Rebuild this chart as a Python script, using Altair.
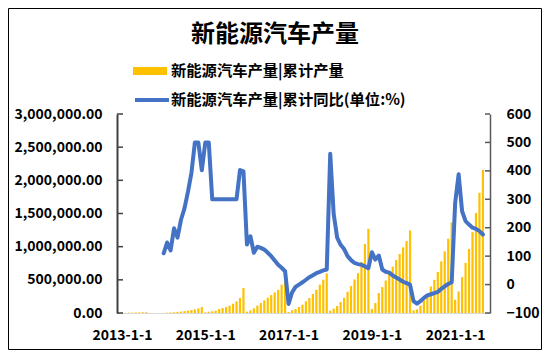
import altair as alt
import pandas as pd

# ---------------- data ----------------
years = [2013, 2014, 2015, 2016, 2017, 2018, 2019, 2020, 2021]

# cumulative production (vehicles), Jan..Dec of each year
bar_2013 = [2000, 3000, 5000, 6000, 8000, 9000, 11000, 12000, None, None, None, None]
bar_2014 = [2000, 5000, 8000, 12000, 17000, 22000, 28000, 35000, 45000, 55000, 68000, 90000]
bar_2015 = [10000, 20000, 25000, 35000, 60000, 75000, 90000, 110000, 140000, 176000, 226000, 376000]
bar_2016 = [20000, 40000, 70000, 110000, 150000, 190000, 230000, 270000, 310000, 350000, 427000, 470000]
bar_2017 = [15000, 40000, 60000, 90000, 125000, 176000, 226000, 286000, 351000, 427000, 502000, 595000]
bar_2018 = [35000, 65000, 105000, 165000, 230000, 320000, 405000, 505000, 600000, 770000, 1040000, 1270000]
bar_2019 = [60000, 150000, 300000, 390000, 490000, 620000, 700000, 800000, 890000, 990000, 1085000, 1244000]
bar_2020 = [40000, 55000, 110000, 190000, 280000, 400000, 500000, 620000, 780000, 930000, 1120000, 1366000]
bar_2021 = [200000, 325000, 540000, 755000, 965000, 1220000, 1508000, 1812000, 2158000]

# cumulative YoY (%)
yoy_2013 = [None] * 12
yoy_2014 = [110, 148, 120, 198, 165, 228, 268, 326, 392, 500, 500, 402]
yoy_2015 = [500, 500, 300, 300, 300, 300, 300, 300, 300, 300, 403, 398]
yoy_2016 = [141, 170, 112, 133, 129, 123, 112, 100, 85, 70, 59, 47]
yoy_2017 = [-68, -28, -8, 0, 8, 17, 26, 33, 40, 45, 50, 53]
yoy_2018 = [460, 248, 165, 140, 125, 100, 86, 76, 72, 70, 64, 58]
yoy_2019 = [114, 88, 102, 53, 45, 42, 32, 25, 18, 10, 5, 0]
yoy_2020 = [-58, -67, -58, -47, -38, -34, -30, -26, -15, -6, 2, 8]
yoy_2021 = [287, 388, 258, 223, 211, 200, 196, 188, 176]

bars_by_year = [bar_2013, bar_2014, bar_2015, bar_2016, bar_2017, bar_2018, bar_2019, bar_2020, bar_2021]
yoy_by_year = [yoy_2013, yoy_2014, yoy_2015, yoy_2016, yoy_2017, yoy_2018, yoy_2019, yoy_2020, yoy_2021]

x_labels = ["2013-1-1", "2015-1-1", "2017-1-1", "2019-1-1", "2021-1-1"]
left_ticks = [0, 500000, 1000000, 1500000, 2000000, 2500000, 3000000]
right_ticks = [-100, 0, 100, 200, 300, 400, 500, 600]

name_bar = "新能源汽车产量|累计产量"
name_line = "新能源汽车产量|累计同比(单位:%)"
title_text = "新能源汽车产量"

# ---------------- tables ----------------
bar_rows, line_rows = [], []
for yi, yr in enumerate(years):
    for m, v in enumerate(bars_by_year[yi]):
        if v is not None:
            bar_rows.append({"i": yi * 12 + m, "month": f"{yr}-{m+1:02d}", "cum": v, "s": name_bar})
    for m, v in enumerate(yoy_by_year[yi]):
        if v is not None:
            line_rows.append({"i": yi * 12 + m, "month": f"{yr}-{m+1:02d}", "yoy": v, "s": name_line})
bar_df = pd.DataFrame(bar_rows)
line_df = pd.DataFrame(line_rows)

FONT = "Noto Sans CJK SC"
W, H = 373, 199
label_expr = "[" + ",".join(f"'{s}'" for s in x_labels) + "][datum.value/24]"

x_enc = alt.X(
    "i:Q",
    scale=alt.Scale(domain=[0, 104.6], nice=False, zero=False),
    axis=alt.Axis(
        values=[0, 24, 48, 72, 96], labelExpr=label_expr, title=None, grid=False,
        ticks=False, tickSize=0, domainColor="#D9D9D9", domainWidth=1,
        labelFont=FONT, labelFontSize=14, labelFontWeight="bold", labelColor="#000000",
        labelPadding=15, labelFlush=False,
    ),
)

left_axis = alt.Axis(
    orient="left", values=left_ticks, format=",.2f", title=None, grid=False,
    ticks=False, tickSize=0, domainColor="#404040", domainWidth=2,
    labelFont=FONT, labelFontSize=14, labelFontWeight="bold", labelColor="#000000",
    labelPadding=15,
)
right_axis = alt.Axis(
    orient="right", values=right_ticks, format="d", title=None, grid=False,
    ticks=False, tickSize=0, domainColor="#595959", domainWidth=1.5,
    labelFont=FONT, labelFontSize=14, labelFontWeight="bold", labelColor="#000000",
    labelPadding=16,
)
left_scale = alt.Scale(domain=[0, 3000000], nice=False)
right_scale = alt.Scale(domain=[-100, 600], nice=False)

bars = alt.Chart(bar_df).mark_bar(size=2.2).encode(
    x=x_enc,
    y=alt.Y("cum:Q", scale=left_scale, axis=left_axis),
    color=alt.Color(
        "s:N", scale=alt.Scale(range=["#FFC000"]),
        legend=alt.Legend(
            orient="none", legendX=16, legendY=-60, title=None, padding=0,
            symbolType="M-1,-0.235H1V0.235H-1Z", symbolSize=1156, symbolStrokeWidth=0,
            labelFont=FONT, labelFontSize=15.3, labelFontWeight="bold", labelColor="#000000",
            labelOffset=4, labelLimit=400,
        ),
    ),
)

lticks = alt.Chart(pd.DataFrame({"cum": left_ticks})).mark_rule(color="#404040", strokeWidth=1.5).encode(
    y=alt.Y("cum:Q", scale=left_scale, axis=left_axis), x=alt.value(0), x2=alt.value(6)
)

line = alt.Chart(line_df).mark_line(strokeWidth=4, strokeJoin="round", strokeCap="round").encode(
    x=alt.X("i:Q"),
    y=alt.Y("yoy:Q", scale=right_scale, axis=right_axis),
    stroke=alt.Stroke(
        "s:N", scale=alt.Scale(range=["#4472C4"]),
        legend=alt.Legend(
            orient="none", legendX=16, legendY=-33, title=None, padding=0,
            symbolType="stroke", symbolSize=1156, symbolStrokeWidth=4,
            labelFont=FONT, labelFontSize=15.3, labelFontWeight="bold", labelColor="#000000",
            labelOffset=0, labelLimit=400,
        ),
    ),
)

rticks = alt.Chart(pd.DataFrame({"yoy": right_ticks})).mark_rule(color="#595959", strokeWidth=1.5).encode(
    y=alt.Y("yoy:Q", scale=right_scale, axis=right_axis), x=alt.value(W - 5), x2=alt.value(W)
)

border = alt.Chart(pd.DataFrame({"a": [0]})).mark_rect(
    fillOpacity=0, stroke="#000000", strokeWidth=1
).encode(
    x=alt.value(-108.5), x2=alt.value(424.5), y=alt.value(-105.5), y2=alt.value(235.5)
)

title = alt.Chart(pd.DataFrame({"t": [title_text]})).mark_text(
    font=FONT, fontSize=24, fontWeight="bold", color="#000000", align="center", baseline="middle"
).encode(text="t:N", x=alt.value(158), y=alt.value(-79))

chart = (
    alt.layer(alt.layer(bars, lticks), alt.layer(line, rticks), border, title)
    .resolve_scale(y="independent")
    .properties(
        width=W, height=H,
        autosize=alt.AutoSizeParams(type="none"),
        padding={"left": 109, "top": 106, "right": 52, "bottom": 37},
        background="#FFFFFF",
    )
    .configure_view(strokeWidth=0)
)

chart.save("out.html", embed_options={"renderer": "svg", "actions": False})
